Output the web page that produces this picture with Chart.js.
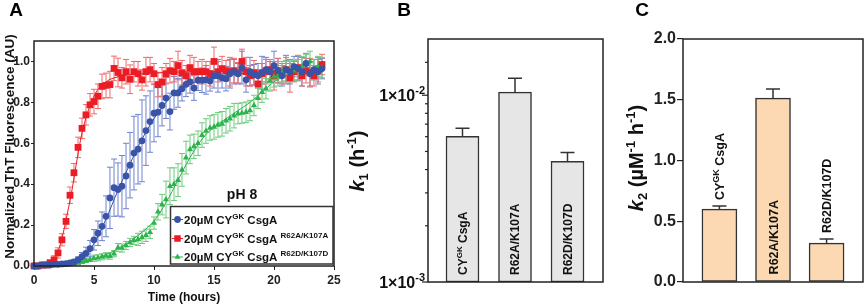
<!DOCTYPE html>
<html>
<head>
<meta charset="utf-8">
<script src="https://cdn.jsdelivr.net/npm/chart.js@4.4.1/dist/chart.umd.min.js"></script>
<style>
  body { margin: 0; background: #fff; width: 865px; height: 305px; position: relative; overflow: hidden; }
  canvas { position: absolute; top: 0; }
</style>
</head>
<body>
<canvas id="chartA" width="345" height="305" style="left:0"></canvas>
<canvas id="chartB" width="265" height="305" style="left:345px"></canvas>
<canvas id="chartC" width="255" height="305" style="left:610px"></canvas>
<script>
// ---- panel A: ThT kinetics (sampled every 20 min) ----
const hours = [0, 0.33, 0.67, 1, 1.33, 1.67, 2, 2.33, 2.67, 3, 3.33, 3.67, 4, 4.33, 4.67, 5, 5.33, 5.67, 6, 6.33, 6.67,
  7, 7.33, 7.67, 8, 8.33, 8.67, 9, 9.33, 9.67, 10, 10.33, 10.67, 11, 11.33, 11.67, 12, 12.33, 12.67, 13, 13.33, 13.67,
  14, 14.33, 14.67, 15, 15.33, 15.67, 16, 16.33, 16.67, 17, 17.33, 17.67, 18, 18.33, 18.67, 19, 19.33, 19.67, 20,
  20.33, 20.67, 21, 21.33, 21.67, 22, 22.33, 22.67, 23, 23.33, 23.67, 24];

const wtMean = [0, 0, 0.005, 0.005, 0.005, 0.008, 0.008, 0.01, 0.012, 0.015, 0.02, 0.03, 0.046, 0.062, 0.085, 0.128,
  0.16, 0.194, 0.243, 0.333, 0.383, 0.374, 0.39, 0.44, 0.493, 0.552, 0.571, 0.612, 0.662, 0.706, 0.747, 0.752, 0.785,
  0.821, 0.755, 0.846, 0.846, 0.867, 0.888, 0.9, 0.87, 0.908, 0.908, 0.91, 0.905, 0.93, 0.93, 0.92, 0.916, 0.94, 0.95,
  0.94, 0.97, 0.91, 0.95, 0.935, 0.93, 0.945, 0.96, 0.95, 0.98, 0.955, 0.93, 0.96, 0.95, 0.975, 0.965, 0.95, 0.99,
  0.94, 0.96, 0.95, 0.965];
const wtErr = [0.008, 0.008, 0.008, 0.008, 0.008, 0.008, 0.008, 0.008, 0.008, 0.01, 0.012, 0.015, 0.02, 0.03, 0.04,
  0.05, 0.06, 0.07, 0.1, 0.15, 0.14, 0.13, 0.15, 0.16, 0.16, 0.18, 0.17, 0.2, 0.17, 0.15, 0.14, 0.12, 0.1, 0.1, 0.09,
  0.08, 0.07, 0.06, 0.06, 0.055, 0.06, 0.05, 0.06, 0.07, 0.05, 0.06, 0.08, 0.05, 0.06, 0.07, 0.06, 0.05, 0.08, 0.06,
  0.07, 0.05, 0.06, 0.08, 0.06, 0.05, 0.07, 0.06, 0.05, 0.07, 0.06, 0.05, 0.06, 0.07, 0.05, 0.06, 0.05, 0.06, 0.05];

const aaMean = [0, 0, 0.005, 0.005, 0.015, 0.03, 0.064, 0.128, 0.218, 0.346, 0.456, 0.58, 0.673, 0.739, 0.788, 0.804,
  0.83, 0.878, 0.883, 0.887, 0.966, 0.946, 0.92, 0.95, 0.913, 0.95, 0.94, 0.91, 0.95, 0.96, 0.94, 0.887, 0.9, 0.94,
  0.955, 0.95, 0.98, 0.945, 0.93, 0.97, 0.95, 0.95, 0.95, 0.95, 0.94, 1.0, 0.95, 0.965, 0.955, 0.95, 0.955, 0.945, 1.0,
  0.95, 0.93, 0.945, 0.89, 0.94, 0.95, 0.96, 0.93, 0.955, 0.94, 0.96, 0.92, 0.95, 0.97, 0.93, 0.955, 0.945, 0.93, 0.96,
  0.985];
const aaErr = [0.01, 0.01, 0.01, 0.01, 0.015, 0.02, 0.025, 0.03, 0.035, 0.04, 0.045, 0.05, 0.05, 0.05, 0.055, 0.06,
  0.06, 0.06, 0.06, 0.065, 0.06, 0.07, 0.05, 0.06, 0.07, 0.05, 0.06, 0.05, 0.07, 0.06, 0.05, 0.06, 0.07, 0.05, 0.06,
  0.05, 0.07, 0.06, 0.05, 0.06, 0.07, 0.05, 0.06, 0.05, 0.06, 0.07, 0.05, 0.06, 0.05, 0.07, 0.06, 0.05, 0.06, 0.07,
  0.05, 0.06, 0.07, 0.05, 0.06, 0.05, 0.07, 0.06, 0.05, 0.06, 0.07, 0.05, 0.06, 0.05, 0.06, 0.07, 0.05, 0.06, 0.05];

const ddMean = [0, 0, 0, 0.003, 0.003, 0.005, 0.005, 0.006, 0.008, 0.01, 0.012, 0.015, 0.02, 0.025, 0.03, 0.038, 0.04,
  0.045, 0.05, 0.048, 0.06, 0.09, 0.088, 0.1, 0.115, 0.125, 0.13, 0.14, 0.15, 0.165, 0.21, 0.265, 0.3, 0.325, 0.39,
  0.4, 0.42, 0.47, 0.53, 0.57, 0.585, 0.6, 0.64, 0.66, 0.675, 0.68, 0.69, 0.695, 0.71, 0.72, 0.735, 0.745, 0.748,
  0.752, 0.76, 0.785, 0.82, 0.85, 0.867, 0.905, 0.925, 0.93, 0.95, 0.955, 0.95, 0.955, 0.96, 0.975, 0.985, 1.0, 0.96,
  0.975, 0.97];
const ddErr = [0.008, 0.008, 0.008, 0.008, 0.008, 0.008, 0.008, 0.008, 0.008, 0.008, 0.008, 0.008, 0.008, 0.008, 0.008,
  0.015, 0.015, 0.015, 0.015, 0.015, 0.015, 0.02, 0.02, 0.02, 0.02, 0.02, 0.03, 0.03, 0.03, 0.03, 0.03, 0.04, 0.05,
  0.09, 0.09, 0.08, 0.08, 0.08, 0.08, 0.07, 0.06, 0.06, 0.06, 0.06, 0.06, 0.06, 0.06, 0.06, 0.06, 0.06, 0.06, 0.05,
  0.05, 0.05, 0.05, 0.05, 0.05, 0.05, 0.05, 0.05, 0.05, 0.05, 0.05, 0.05, 0.05, 0.05, 0.05, 0.05, 0.05, 0.05, 0.05,
  0.05, 0.05];

const fitHours = [0, 1, 2, 3, 4, 5, 6, 7, 8, 9, 10, 11, 12, 13, 14, 15, 16, 17, 18, 19, 20, 21, 22, 23, 24];
const wtFit = [0, 0.002, 0.005, 0.015, 0.04, 0.11, 0.23, 0.37, 0.5, 0.62, 0.72, 0.8, 0.86, 0.89, 0.91, 0.925, 0.935,
  0.94, 0.945, 0.948, 0.95, 0.952, 0.953, 0.954, 0.955];
const aaFit = [0, 0.008, 0.07, 0.32, 0.65, 0.83, 0.9, 0.925, 0.935, 0.94, 0.943, 0.946, 0.948, 0.95, 0.95, 0.951,
  0.952, 0.952, 0.953, 0.953, 0.954, 0.954, 0.955, 0.955, 0.955];
const ddFit = [0, 0.002, 0.005, 0.01, 0.02, 0.035, 0.055, 0.085, 0.12, 0.165, 0.22, 0.31, 0.42, 0.53, 0.62, 0.68,
  0.72, 0.76, 0.8, 0.85, 0.9, 0.93, 0.95, 0.96, 0.965];

const seriesNames = ['20µM CY^GK CsgA', '20µM CY^GK CsgA ^R62A/K107A', '20µM CY^GK CsgA ^R62D/K107D'];

// ---- panels B and C: rate constants ----
const variants = ['CY^GK CsgA', 'R62A/K107A', 'R62D/K107D'];
const k1Values = [0.00603, 0.01038, 0.00442];
const k1Errors = [0.00062, 0.00196, 0.00052];
const k2Values = [0.60, 1.514, 0.32];
const k2Errors = [0.025, 0.075, 0.034];

const FONT = "'Liberation Sans', Arial, Helvetica, sans-serif";
const INK = '#222';
const BLUE = '#3953a6', RED = '#ec1c24', GREEN = '#2db34b';

Chart.defaults.font.family = FONT;
Chart.defaults.font.weight = 'bold';
Chart.defaults.color = INK;

// "CY^GK CsgA" -> [[text, size, dy], ...] with ^word as superscript
function richParts(str, size, supSize, supDy) {
  return str.split(/(\^\S+)/).filter(s => s.length).map(s =>
    s[0] === '^' ? [s.slice(1), supSize, supDy] : [s, size, 0]);
}

function partFont(p) {
  return (p[3] ? 'italic ' : '') + 'bold ' + p[1] + 'px ' + FONT;
}

function drawParts(ctx, parts, x, y, align) {
  ctx.textAlign = 'left';
  ctx.textBaseline = 'alphabetic';
  const widths = parts.map(p => { ctx.font = partFont(p); return ctx.measureText(p[0]).width; });
  const total = widths.reduce((a, b) => a + b, 0);
  let cx = align === 'center' ? x - total / 2 : align === 'right' ? x - total : x;
  parts.forEach((p, i) => {
    ctx.font = partFont(p);
    ctx.fillText(p[0], cx, y + (p[2] || 0));
    cx += widths[i];
  });
  return total;
}

function drawRotated(ctx, parts, x, y, align, baseShift) {
  ctx.save();
  ctx.translate(x, y);
  ctx.rotate(-Math.PI / 2);
  drawParts(ctx, parts, 0, baseShift, align);
  ctx.restore();
}

const framePlugin = {
  id: 'frame',
  afterDatasetsDraw(chart) {
    const {ctx, chartArea: a} = chart;
    ctx.save();
    ctx.strokeStyle = INK;
    ctx.lineWidth = 1.5;
    ctx.strokeRect(a.left, a.top, a.right - a.left, a.bottom - a.top);
    ctx.restore();
  }
};

function letterPlugin(letter, x, y) {
  return {
    id: 'letter' + letter,
    afterDraw(chart) {
      const ctx = chart.ctx;
      ctx.save();
      ctx.fillStyle = '#000';
      ctx.font = 'bold 19px ' + FONT;
      ctx.textAlign = 'center';
      ctx.textBaseline = 'middle';
      ctx.fillText(letter, x, y);
      ctx.restore();
    }
  };
}

// ---------- panel A ----------
const errorBarsA = {
  id: 'errorBarsA',
  beforeDatasetsDraw(chart) {
    const {ctx} = chart;
    const ys = chart.scales.y;
    ctx.save();
    ctx.lineWidth = 1;
    chart.data.datasets.forEach((ds, di) => {
      if (!ds.errs) return;
      const meta = chart.getDatasetMeta(di);
      ctx.strokeStyle = ds.errColor;
      meta.data.forEach((pt, i) => {
        const v = ds.data[i].y, e = ds.errs[i];
        const top = ys.getPixelForValue(v + e), bot = ys.getPixelForValue(v - e);
        ctx.beginPath();
        ctx.moveTo(pt.x, top); ctx.lineTo(pt.x, bot);
        ctx.moveTo(pt.x - 3, top); ctx.lineTo(pt.x + 3, top);
        ctx.moveTo(pt.x - 3, bot); ctx.lineTo(pt.x + 3, bot);
        ctx.stroke();
      });
    });
    ctx.restore();
  }
};

const legendA = {
  id: 'legendA',
  afterDraw(chart) {
    const {ctx} = chart;
    const rows = [219.5, 238.5, 257];
    const styles = [['circle', BLUE], ['rect', RED], ['triangle', GREEN]];
    ctx.save();
    ctx.fillStyle = '#fff';
    ctx.fillRect(170.5, 206.5, 162.5, 57.5);
    ctx.strokeStyle = '#333';
    ctx.lineWidth = 1.5;
    ctx.strokeRect(170.5, 206.5, 162.5, 57.5);
    ctx.fillStyle = '#111';
    ctx.font = 'bold 14px ' + FONT;
    ctx.textAlign = 'center';
    ctx.textBaseline = 'middle';
    ctx.fillText('pH 8', 242, 195);
    rows.forEach((y, i) => {
      const [style, col] = styles[i];
      ctx.strokeStyle = col;
      ctx.lineWidth = 1;
      ctx.beginPath(); ctx.moveTo(172, y); ctx.lineTo(183, y); ctx.stroke();
      ctx.fillStyle = col;
      Chart.helpers.drawPoint(ctx, {pointStyle: style, radius: style === 'rect' ? 4.6 : 3.4, borderWidth: 0}, 177.5, y);
      ctx.fillStyle = '#111';
      drawParts(ctx, richParts(seriesNames[i], 11.5, 8, -5), 184, y + 4, 'left');
    });
    ctx.restore();
  }
};

const titlesA = {
  id: 'titlesA',
  afterDraw(chart) {
    const {ctx} = chart;
    ctx.save();
    ctx.fillStyle = '#111';
    drawRotated(ctx, [['Normalized ThT Fluorescence (AU)', 13.5, 0]], 9, 146.5, 'center', 4.8);
    drawParts(ctx, [['Time (hours)', 12, 0]], 184, 301, 'center');
    ctx.restore();
  }
};

const pts = vals => hours.map((h, i) => ({x: h, y: vals[i]}));
const fitPts = vals => fitHours.map((h, i) => ({x: h, y: vals[i]}));

function markerSet(label, vals, errs, color, errColor, style, radius, order) {
  return {
    label, data: pts(vals), errs, errColor, showLine: false, clip: false, order,
    pointStyle: style, pointRadius: radius, pointBackgroundColor: color, pointBorderColor: color, pointBorderWidth: 0
  };
}
function fitSet(vals, color) {
  return {
    data: fitPts(vals), borderColor: color, borderWidth: 1, pointRadius: 0, clip: false, order: 10,
    cubicInterpolationMode: 'monotone'
  };
}

new Chart(document.getElementById('chartA'), {
  type: 'line',
  data: {
    datasets: [
      markerSet(seriesNames[0], wtMean, wtErr, BLUE, '#6f83d0', 'circle', 3.4, 1),
      markerSet(seriesNames[1], aaMean, aaErr, RED, '#f06a6a', 'rect', 4.8, 3),
      markerSet(seriesNames[2], ddMean, ddErr, GREEN, '#6ccb7c', 'triangle', 3.6, 2),
      fitSet(wtFit, BLUE),
      fitSet(aaFit, RED),
      fitSet(ddFit, GREEN)
    ]
  },
  options: {
    responsive: false,
    animation: false,
    layout: {padding: {left: 0, top: 41, right: 11, bottom: 0}},
    plugins: {legend: {display: false}, tooltip: {enabled: false}},
    scales: {
      x: {
        type: 'linear', min: 0, max: 25,
        ticks: {stepSize: 5, font: {size: 12, weight: 'bold'}, padding: 3, maxRotation: 0, color: INK},
        grid: {drawOnChartArea: false, tickLength: 4, color: INK},
        border: {display: false},
        afterFit: s => { s.height = 39; }
      },
      y: {
        min: 0, max: 1.1,
        ticks: {stepSize: 0.2, includeBounds: false, callback: v => v.toFixed(1), font: {size: 12, weight: 'bold'}, padding: 1, color: INK},
        grid: {drawOnChartArea: false, tickLength: 3, color: INK},
        border: {display: false},
        afterFit: s => { s.width = 34; }
      }
    }
  },
  plugins: [errorBarsA, framePlugin, legendA, titlesA, letterPlugin('A', 16, 11)]
});

// ---------- panels B and C ----------
function barExtras(values, errors, labelSize) {
  return {
    id: 'barExtras',
    afterDatasetsDraw(chart) {
      const {ctx} = chart;
      const ys = chart.scales.y;
      const meta = chart.getDatasetMeta(0);
      ctx.save();
      ctx.strokeStyle = '#333';
      ctx.lineWidth = 1.5;
      meta.data.forEach((bar, i) => {
        const top = ys.getPixelForValue(values[i] + errors[i]);
        ctx.beginPath();
        ctx.moveTo(bar.x, bar.y); ctx.lineTo(bar.x, top);
        ctx.moveTo(bar.x - 7, top); ctx.lineTo(bar.x + 7, top);
        ctx.stroke();
      });
      ctx.fillStyle = '#111';
      meta.data.forEach((bar, i) => {
        const parts = richParts(variants[i], labelSize, Math.round(labelSize * 0.68), -5);
        ctx.save();
        const w = parts.reduce((a, p) => { ctx.font = partFont(p); return a + ctx.measureText(p[0]).width; }, 0);
        ctx.restore();
        const inside = w + 14 < bar.base - bar.y;
        const start = inside ? bar.base - 7 : ys.getPixelForValue(values[i] + errors[i]) - 6;
        drawRotated(ctx, parts, bar.x, start, 'left', labelSize * 0.36);
      });
      ctx.restore();
    }
  };
}

const logTicksB = {
  id: 'logTicksB',
  afterDraw(chart) {
    const {ctx} = chart;
    const ys = chart.scales.y;
    const left = chart.chartArea.left;
    ctx.save();
    ctx.strokeStyle = INK;
    ctx.lineWidth = 1.2;
    ctx.fillStyle = '#111';
    ys.ticks.forEach(t => {
      if (t.value >= ys.max - 1e-9) return;
      const py = ys.getPixelForValue(t.value);
      const exp = Math.round(Math.log10(t.value));
      const major = Math.abs(Math.log10(t.value) - exp) < 1e-6;
      ctx.beginPath();
      ctx.moveTo(left - (major ? 6 : 3), py);
      ctx.lineTo(left, py);
      ctx.stroke();
      if (major) {
        drawParts(ctx, [['1×10', 16, 0], [String(exp), 11, -7]], left - 3, py + 6, 'right');
      }
    });
    drawRotated(ctx, [['k', 20, 0, true], ['1', 13, 4], [' (h', 20, 0], ['-1', 13, -8], [')', 20, 0]], 12, 161, 'center', 7);
    ctx.restore();
  }
};

new Chart(document.getElementById('chartB'), {
  type: 'bar',
  data: {
    datasets: [{
      data: variants.map((v, i) => ({x: i, y: k1Values[i]})),
      backgroundColor: '#e6e6e6', borderColor: '#333', borderWidth: 1.5, borderSkipped: false, barThickness: 33
    }]
  },
  options: {
    responsive: false,
    animation: false,
    layout: {padding: {left: 0, top: 39, right: 7, bottom: 23}},
    plugins: {legend: {display: false}, tooltip: {enabled: false}},
    scales: {
      x: {type: 'linear', min: -0.657, max: 2.676, offset: false, display: false},
      y: {
        type: 'logarithmic', min: 0.001, max: 0.02,
        ticks: {display: false}, grid: {display: false}, border: {display: false},
        afterFit: s => { s.width = 83; }
      }
    }
  },
  plugins: [framePlugin, barExtras(k1Values, k1Errors, 12), logTicksB, letterPlugin('B', 59, 11)]
});

const titleC = {
  id: 'titleC',
  afterDraw(chart) {
    const {ctx} = chart;
    ctx.save();
    ctx.fillStyle = '#111';
    drawRotated(ctx, [['k', 20, 0, true], ['2', 13, 4], [' (µM', 20, 0], ['-1', 13, -8], [' h', 20, 0], ['-1', 13, -8], [')', 20, 0]], 26, 158, 'center', 7);
    ctx.restore();
  }
};

new Chart(document.getElementById('chartC'), {
  type: 'bar',
  data: {
    datasets: [{
      data: variants.map((v, i) => ({x: i, y: k2Values[i]})),
      backgroundColor: '#fcd9b2', borderColor: '#333', borderWidth: 1.5, borderSkipped: false, barThickness: 35
    }]
  },
  options: {
    responsive: false,
    animation: false,
    layout: {padding: {left: 0, top: 39, right: 2, bottom: 23}},
    plugins: {legend: {display: false}, tooltip: {enabled: false}},
    scales: {
      x: {type: 'linear', min: -0.68, max: 2.68, offset: false, display: false},
      y: {
        min: 0, max: 2,
        ticks: {stepSize: 0.5, callback: v => v.toFixed(1), font: {size: 16, weight: 'bold'}, padding: 1, color: INK},
        grid: {drawOnChartArea: false, tickLength: 6, color: INK, lineWidth: 1.2},
        border: {display: false},
        afterFit: s => { s.width = 73; }
      }
    }
  },
  plugins: [framePlugin, barExtras(k2Values, k2Errors, 12.5), titleC, letterPlugin('C', 32, 11)]
});
</script>
</body>
</html>
